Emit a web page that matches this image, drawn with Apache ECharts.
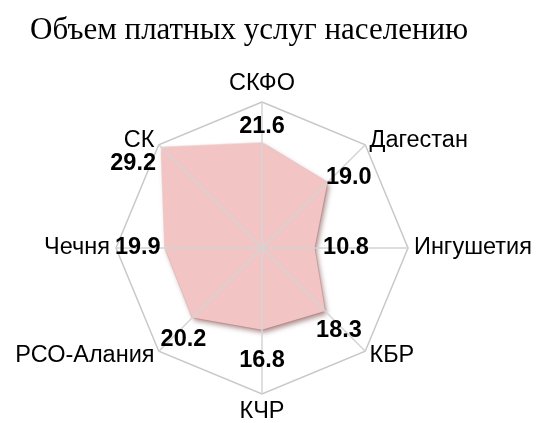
<!DOCTYPE html>
<html>
<head>
<meta charset="utf-8">
<script src="https://cdn.jsdelivr.net/npm/echarts@6/dist/echarts.min.js"></script>
<style>
  html, body { margin: 0; padding: 0; background: #fff; }
  #main { width: 539px; height: 423px; }
</style>
</head>
<body>
<div id="main"></div>
<script>
// regions in clockwise order, starting from the top
var regions = ['СКФО', 'Дагестан', 'Ингушетия', 'КБР', 'КЧР', 'РСО-Алания', 'Чечня', 'СК'];
var values = [21.6, 19.0, 10.8, 18.3, 16.8, 20.2, 19.9, 29.2];
var axisMax = 30;

// where each value label sits next to its point (style only)
var labelPlace = [
  { position: 'top', distance: 4, offset: [0, 0] },
  { position: 'right', distance: 0, offset: [-2, -5] },
  { position: 'right', distance: 8, offset: [0, 0] },
  { position: 'bottom', distance: 7, offset: [14, 0] },
  { position: 'bottom', distance: 18, offset: [0, 0] },
  { position: 'bottom', distance: 10, offset: [-9, 0] },
  { position: 'left', distance: 4, offset: [0, 0] },
  { position: 'left', distance: 5, offset: [0, 16] }
];

// echarts lays indicators out counter-clockwise, so flip the order
var order = [0];
for (var i = regions.length - 1; i > 0; i--) order.push(i);

var indicators = order.map(function (k) { return { name: regions[k], max: axisMax }; });
var mainValues = order.map(function (k) { return values[k]; });

// one item per vertex so every label can be placed on its own
var labelItems = order.map(function (k, pos) {
  var v = order.map(function () { return null; });
  v[pos] = values[k];
  return {
    value: v,
    label: {
      show: true,
      position: labelPlace[k].position,
      distance: labelPlace[k].distance,
      offset: labelPlace[k].offset
    }
  };
});

var myChart = echarts.init(document.getElementById('main'));
var option = {
  animation: false,
  title: {
    text: 'Объем платных услуг населению',
    left: 25,
    top: 10,
    textStyle: {
      fontFamily: 'Liberation Serif',
      fontSize: 31,
      fontWeight: 'normal',
      color: '#000'
    }
  },
  radar: {
    z: 2,
    center: [262, 248],
    radius: 146,
    startAngle: 90,
    splitNumber: 1,
    shape: 'polygon',
    indicator: indicators,
    axisName: {
      color: '#000',
      fontFamily: 'Liberation Sans',
      fontSize: 23.5
    },
    nameGap: 6,
    splitArea: { show: false },
    splitLine: { lineStyle: { color: '#c8c8c8', width: 1.5 } },
    axisLine: { lineStyle: { color: '#d4d4d4', width: 1.5 } }
  },
  series: [
    {
      type: 'radar',
      z: 1,
      symbol: 'none',
      lineStyle: { color: '#f8e0e0', width: 2 },
      areaStyle: {
        color: '#f2c4c4',
        opacity: 1,
        shadowColor: 'rgba(110,50,50,0.55)',
        shadowBlur: 5,
        shadowOffsetX: 2,
        shadowOffsetY: 3
      },
      data: [{ value: mainValues }]
    },
    {
      type: 'radar',
      z: 3,
      symbol: 'circle',
      symbolSize: 1,
      itemStyle: { color: 'transparent' },
      lineStyle: { opacity: 0 },
      label: {
        color: '#000',
        fontFamily: 'Liberation Sans',
        fontWeight: 'bold',
        fontSize: 23.5,
        formatter: function (p) {
          return typeof p.value === 'number' ? p.value.toFixed(1) : '';
        }
      },
      data: labelItems
    }
  ]
};
myChart.setOption(option);
</script>
</body>
</html>
